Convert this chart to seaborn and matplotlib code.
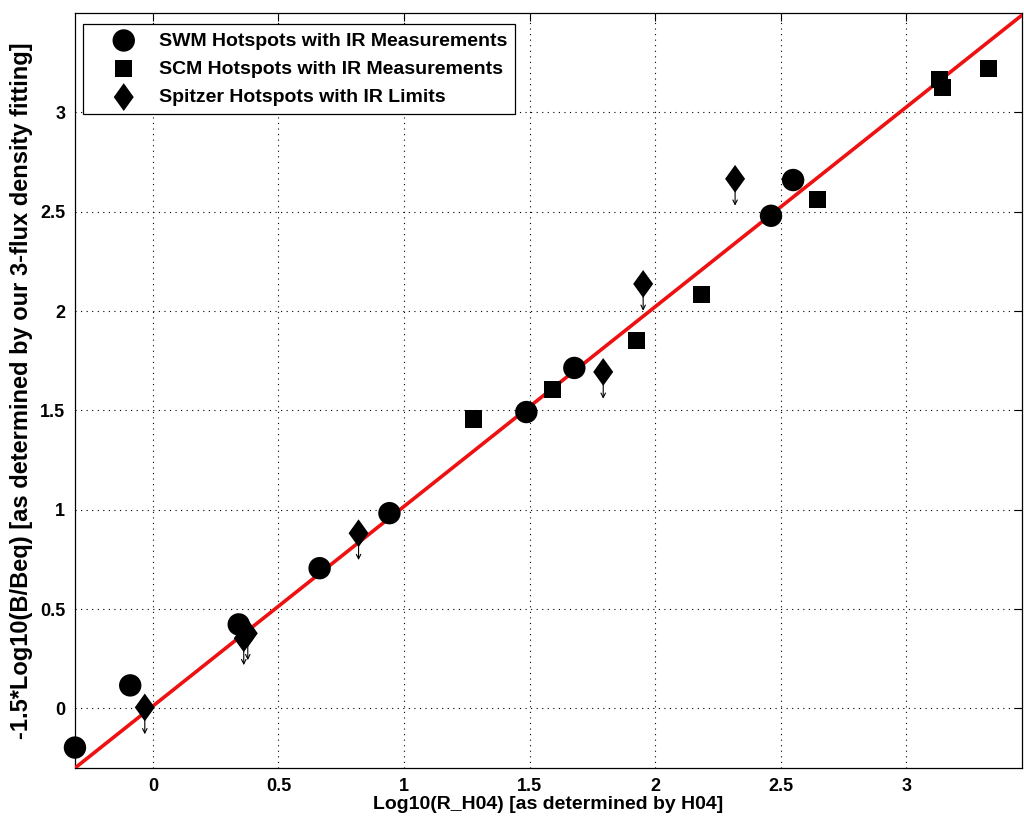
import numpy as np
import pandas as pd
import matplotlib
matplotlib.use("Agg")
import matplotlib.pyplot as plt
import seaborn as sns
from matplotlib.path import Path

# ---- data ----
swm_x = [-0.31, -0.09, 0.342, 0.664, 0.942, 1.487, 1.678, 2.461, 2.549]
swm_y = [-0.197, 0.116, 0.423, 0.706, 0.983, 1.492, 1.714, 2.48, 2.66]

scm_x = [1.276, 1.590, 1.924, 2.183, 2.648, 3.133, 3.145, 3.328]
scm_y = [1.457, 1.608, 1.850, 2.082, 2.56, 3.165, 3.125, 3.22]

spz_x = [-0.032, 0.362, 0.378, 0.819, 1.793, 1.952, 2.318]
spz_y = [0.005, 0.353, 0.378, 0.882, 1.694, 2.137, 2.666]

fit_x = [-0.31, 3.46]
fit_y = [-0.30, 3.49]

x_ticks = [0, 0.5, 1, 1.5, 2, 2.5, 3]
y_ticks = [0, 0.5, 1, 1.5, 2, 2.5, 3]
x_tick_labels = ["0", "0.5", "1", "1.5", "2", "2.5", "3"]
y_tick_labels = ["0", "0.5", "1", "1.5", "2", "2.5", "3"]

labels = ["SWM Hotspots with IR Measurements",
          "SCM Hotspots with IR Measurements",
          "Spitzer Hotspots with IR Limits"]

sns.set_style("white")
plt.rcParams['font.family'] = ['Liberation Sans', 'DejaVu Sans']
plt.rcParams['font.weight'] = 'bold'
plt.rcParams['text.color'] = 'black'
plt.rcParams['axes.labelcolor'] = 'black'
plt.rcParams['xtick.color'] = 'black'
plt.rcParams['ytick.color'] = 'black'

fig = plt.figure(figsize=(10.24, 8.23), dpi=100)
ax = fig.add_axes([0.0732, 0.0668, 0.9248, 0.9172])

diamond = Path([(0, 1), (0.72, 0), (0, -1), (-0.72, 0), (0, 1)],
               [Path.MOVETO, Path.LINETO, Path.LINETO, Path.LINETO, Path.CLOSEPOLY])

sns.lineplot(x=fit_x, y=fit_y, ax=ax, color="#ee1111", lw=2.6, zorder=3)

sns.scatterplot(x=swm_x, y=swm_y, ax=ax, marker="o", s=260, color="black",
                edgecolor="none", label=labels[0], zorder=4, clip_on=False)
sns.scatterplot(x=scm_x, y=scm_y, ax=ax, marker="s", s=150, color="black",
                edgecolor="none", label=labels[1], zorder=4)
sns.scatterplot(x=spz_x, y=spz_y, ax=ax, marker=diamond, s=400, color="black",
                edgecolor="none", label=labels[2], zorder=4)

for xx, yy in zip(spz_x, spz_y):
    ax.annotate("", xy=(xx, yy - 0.135), xytext=(xx, yy),
                arrowprops=dict(arrowstyle="->", lw=0.8, color="black",
                                shrinkA=0, shrinkB=0, mutation_scale=8),
                zorder=3)

ax.set_xlim(-0.31, 3.46)
ax.set_ylim(-0.30, 3.50)
ax.set_xticks(x_ticks)
ax.set_xticklabels(x_tick_labels)
ax.set_yticks(y_ticks)
ax.set_yticklabels(y_tick_labels)
ax.tick_params(direction="in", length=6, width=0.8, top=True, right=True,
               labelsize=13, pad=7, colors="black")
for lab in ax.get_xticklabels() + ax.get_yticklabels():
    lab.set_fontweight("bold")
ax.grid(True, linestyle=(0, (1, 4)), color="black", lw=0.8)
for sp in ax.spines.values():
    sp.set_color("black")
    sp.set_linewidth(0.9)

ax.set_xlabel("Log10(R_H04) [as determined by H04]", fontsize=14, fontweight="bold", labelpad=1)
ax.set_ylabel("-1.5*Log10(B/Beq) [as determined by our 3-flux density fitting]",
              fontsize=17, fontweight="bold", labelpad=5)

leg = ax.legend(loc="upper left", bbox_to_anchor=(0.0084, 0.9854), fontsize=14,
                frameon=True, fancybox=False, edgecolor="black", framealpha=1,
                handletextpad=0.1, borderpad=0.4, labelspacing=0.55, handlelength=3.4,
                borderaxespad=0)
leg.get_frame().set_linewidth(0.9)
for t in leg.get_texts():
    t.set_fontweight("bold")
    t.set_color("black")

fig.savefig("out.png", dpi=100)
